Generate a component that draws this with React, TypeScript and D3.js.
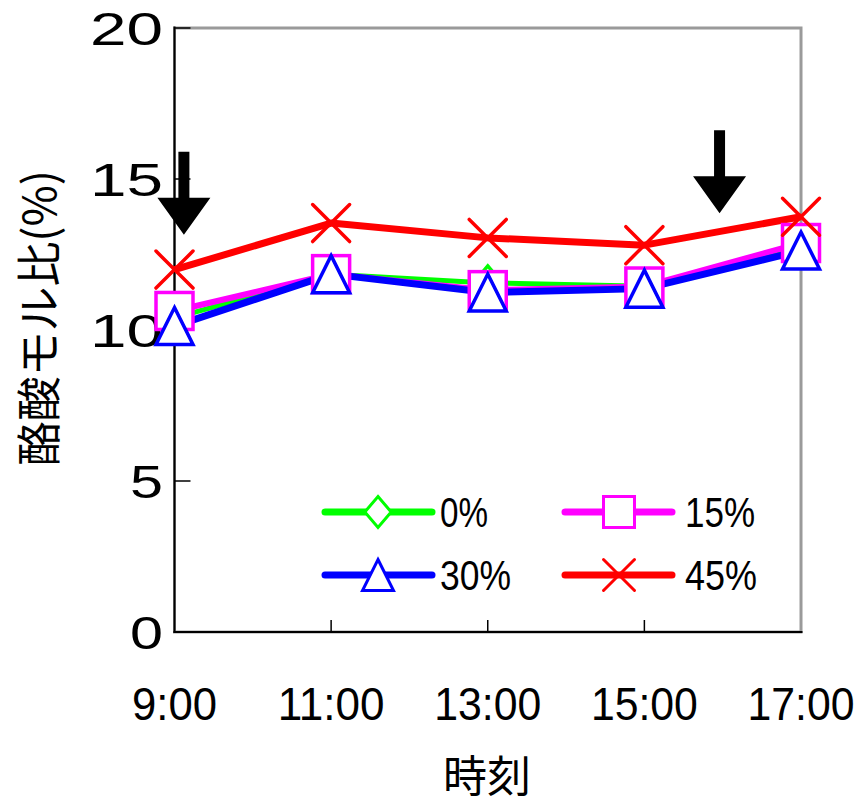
import React from 'react';
import * as d3 from 'd3';

const hours = [9, 11, 13, 15, 17];
const timeLabels = ['9:00', '11:00', '13:00', '15:00', '17:00'];
const yTicks = [0, 5, 10, 15, 20];
const yTickLabels = ['0', '5', '10', '15', '20'];

const seriesNames = ['0%', '15%', '30%', '45%'];
const s0 = [10.4, 11.85, 11.56, 11.45, 12.75];
const s15 = [10.63, 11.85, 11.32, 11.44, 12.88];
const s30 = [10.13, 11.85, 11.24, 11.37, 12.63];
const s45 = [12.0, 13.54, 13.05, 12.81, 13.75];

const arrowHours = [9.12, 15.96];
const arrowTipValues = [13.15, 13.87];

const W = 863;
const H = 803;
const L = 174.5, R = 801, T = 28, B = 632;

const colors = ['#00ff00', '#ff00ff', '#0000ff', '#ff0000'];
const lineWidths = [5, 6, 7, 7];
const markerTypes = ['diamond', 'square', 'triangle', 'cross'];

function Marker({ type, cx, cy, size, color, sw }: any) {
  const h = size / 2;
  if (type === 'diamond') {
    return <path d={`M${cx},${cy - h}L${cx + h * 0.85},${cy}L${cx},${cy + h}L${cx - h * 0.85},${cy}Z`} fill="#fff" stroke={color} strokeWidth={sw} />;
  }
  if (type === 'square') {
    return <rect x={cx - h} y={cy - h} width={size} height={size} fill="#fff" stroke={color} strokeWidth={sw} />;
  }
  if (type === 'triangle') {
    return <path d={`M${cx},${cy - h}L${cx + h},${cy + h}L${cx - h},${cy + h}Z`} fill="#fff" stroke={color} strokeWidth={sw} strokeLinejoin="miter" />;
  }
  return (
    <g stroke={color} strokeWidth={sw} strokeLinecap="round">
      <line x1={cx - h} y1={cy - h} x2={cx + h} y2={cy + h} />
      <line x1={cx - h} y1={cy + h} x2={cx + h} y2={cy - h} />
    </g>
  );
}

export default function App() {
  const x = d3.scaleLinear().domain([9, 17]).range([L, R]);
  const y = d3.scaleLinear().domain([0, 20]).range([B, T]);
  const data = [s0, s15, s30, s45];
  const line = d3.line<number>().x((_, i) => x(hours[i])).y((d) => y(d));

  const numFont = '"Liberation Sans", Arial, sans-serif';
  const cjkFont = '"Noto Sans CJK JP", "Noto Sans", sans-serif';

  const legendItems = [
    { idx: 0, x1: 325, x2: 432, mx: 378, ty: 512, tx: 440, tl: 48 },
    { idx: 1, x1: 565, x2: 672, mx: 619, ty: 512, tx: 685, tl: 70 },
    { idx: 2, x1: 325, x2: 432, mx: 378, ty: 575, tx: 440, tl: 71 },
    { idx: 3, x1: 565, x2: 672, mx: 619, ty: 575, tx: 685, tl: 72 },
  ];

  return (
    <svg width={W} height={H} style={{ position: 'absolute', left: 0, top: 0, display: 'block' }}>
      <rect x={0} y={0} width={W} height={H} fill="#fff" />
      {/* plot frame */}
      <rect x={L} y={T} width={R - L} height={B - T} fill="#fff" stroke="#9a9a9a" strokeWidth={3} />
      <line x1={L} y1={T - 1.5} x2={L} y2={B + 1} stroke="#000" strokeWidth={2} />
      <line x1={L - 1} y1={B} x2={R + 1.5} y2={B} stroke="#000" strokeWidth={2} />
      {/* y ticks */}
      {yTicks.map((t, i) => (
        <g key={'yt' + i}>
          {t > 0 && <line x1={L} x2={L + 16} y1={y(t)} y2={y(t)} stroke="#000" strokeWidth={1.5} />}
          <text x={163} y={y(t) + 16.5} textAnchor="end" fontFamily={numFont} fontSize={46}
            textLength={yTickLabels[i].length === 1 ? 33 : 73} lengthAdjust="spacingAndGlyphs">{yTickLabels[i]}</text>
        </g>
      ))}
      {/* x ticks */}
      {hours.map((h, i) => (
        <g key={'xt' + i}>
          {i > 0 && i < hours.length - 1 && <line x1={x(h)} x2={x(h)} y1={B} y2={B - 12} stroke="#000" strokeWidth={1.5} />}
          <text x={x(h)} y={720} textAnchor="middle" fontFamily={numFont} fontSize={46}
            textLength={timeLabels[i].length === 4 ? 85 : 107} lengthAdjust="spacingAndGlyphs">{timeLabels[i]}</text>
        </g>
      ))}
      {/* axis titles */}
      <text x={487} y={792} textAnchor="middle" fontFamily={cjkFont} fontSize={43}
        textLength={88} lengthAdjust="spacingAndGlyphs">時刻</text>
      <text transform={`translate(56,318) rotate(-90)`} textAnchor="middle" fontFamily={cjkFont} fontSize={45}
        textLength={296} lengthAdjust="spacingAndGlyphs">酪酸モル比(%)</text>
      {/* arrows */}
      {arrowHours.map((h, i) => {
        const cx = x(h);
        const tip = y(arrowTipValues[i]);
        const headTop = tip - 37;
        const shaftTop = headTop - 46;
        return (
          <path key={'ar' + i}
            d={`M${cx - 5.5},${shaftTop}L${cx + 5.5},${shaftTop}L${cx + 5.5},${headTop}L${cx + 26.5},${headTop}L${cx},${tip}L${cx - 26.5},${headTop}L${cx - 5.5},${headTop}Z`}
            fill="#000" />
        );
      })}
      {/* lines */}
      {data.map((d, si) => (
        <path key={'ln' + si} d={line(d) || ''} fill="none" stroke={colors[si]} strokeWidth={lineWidths[si]} strokeLinejoin="round" />
      ))}
      {/* markers */}
      {data.map((d, si) => (
        <g key={'mk' + si}>
          {d.map((v, i) => (
            <Marker key={i} type={markerTypes[si]} cx={x(hours[i])} cy={y(v)} size={si === 0 ? 34 : 37} color={colors[si]} sw={3.5} />
          ))}
        </g>
      ))}
      {/* legend */}
      {legendItems.map((it) => (
        <g key={'lg' + it.idx}>
          <line x1={it.x1} x2={it.x2} y1={it.ty} y2={it.ty} stroke={colors[it.idx]} strokeWidth={7} strokeLinecap="round" />
          <Marker type={markerTypes[it.idx]} cx={it.mx} cy={it.ty} size={31} color={colors[it.idx]} sw={3} />
          <text x={it.tx} y={it.ty + 15} fontFamily={numFont} fontSize={42}
            textLength={it.tl} lengthAdjust="spacingAndGlyphs">{seriesNames[it.idx]}</text>
        </g>
      ))}
    </svg>
  );
}
